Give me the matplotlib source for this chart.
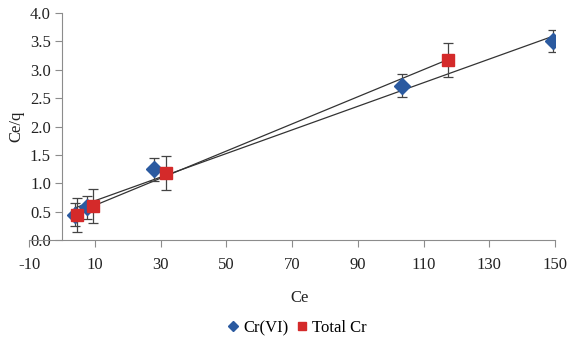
"""Ce/q versus Ce for Cr(VI) and total Cr, with linear trendlines."""

import numpy as np
import matplotlib
matplotlib.use("Agg")
import matplotlib.pyplot as plt

plt.rcParams["font.family"] = ["Liberation Serif", "DejaVu Serif"]
plt.rcParams["axes.unicode_minus"] = False

# values
cr6_ce = [4.0, 7.5, 28.0, 103.5, 149.5]
cr6_ceq = [0.45, 0.58, 1.25, 2.72, 3.51]
cr6_err = [0.2, 0.2, 0.2, 0.2, 0.2]

tot_ce = [4.5, 9.5, 31.5, 117.5]
tot_ceq = [0.44, 0.60, 1.18, 3.17]
tot_err = [0.3, 0.3, 0.3, 0.3]

x_ticks = [-10, 10, 30, 50, 70, 90, 110, 130, 150]
y_ticks = [0.0, 0.5, 1.0, 1.5, 2.0, 2.5, 3.0, 3.5, 4.0]

blue = "#2B5AA0"
red = "#D42A2A"
axis_col = "#8c8c8c"

fig = plt.figure(figsize=(5.71, 3.44), dpi=100)
ax = fig.add_axes([0.051, 0.302, 0.921, 0.66])

# trendlines (least squares on each series)
for xs, ys in [(cr6_ce, cr6_ceq), (tot_ce, tot_ceq)]:
    k, b = np.polyfit(xs, ys, 1)
    xx = np.array([min(xs), max(xs)])
    ax.plot(xx, k * xx + b, color="#333333", lw=0.9, zorder=2)

ax.errorbar(cr6_ce, cr6_ceq, yerr=cr6_err, fmt="D", color=blue, ms=8,
            ecolor="#444444", elinewidth=0.9, capsize=3.5, capthick=0.9,
            label="Cr(VI)", zorder=3)
ax.errorbar(tot_ce, tot_ceq, yerr=tot_err, fmt="s", color=red, ms=9,
            ecolor="#444444", elinewidth=0.9, capsize=3.5, capthick=0.9,
            label="Total Cr", zorder=4)

ax.set_xlim(-10, 150)
ax.set_ylim(0, 4.0)
ax.set_xticks(x_ticks)
ax.set_yticks(y_ticks)
ax.set_yticklabels([f"{v:.1f}" for v in y_ticks])

ax.spines["left"].set_position(("data", 0))
ax.spines["top"].set_visible(False)
ax.spines["right"].set_visible(False)
for s in ("left", "bottom"):
    ax.spines[s].set_color(axis_col)
ax.tick_params(colors=axis_col, labelcolor="#222222", labelsize=12,
               length=5, width=0.8)
ax.tick_params(axis="x", pad=7)
ax.tick_params(axis="y", pad=3)

ax.set_ylabel("Ce/q", fontsize=12, color="#222222")
ax.yaxis.set_label_coords(-0.009, 0.5)
ax.set_xlabel("Ce", fontsize=12, color="#222222")
ax.xaxis.set_label_coords(0.515, -0.22)

handles, labels = ax.get_legend_handles_labels()
handles = [h[0] for h in handles]
fig.legend(handles, labels, loc="center", bbox_to_anchor=(0.518, 0.046),
           ncol=2, frameon=False, fontsize=12, handletextpad=0.1,
           columnspacing=0.3, handlelength=1.0, markerscale=0.7)

fig.savefig("out.png", dpi=100)
